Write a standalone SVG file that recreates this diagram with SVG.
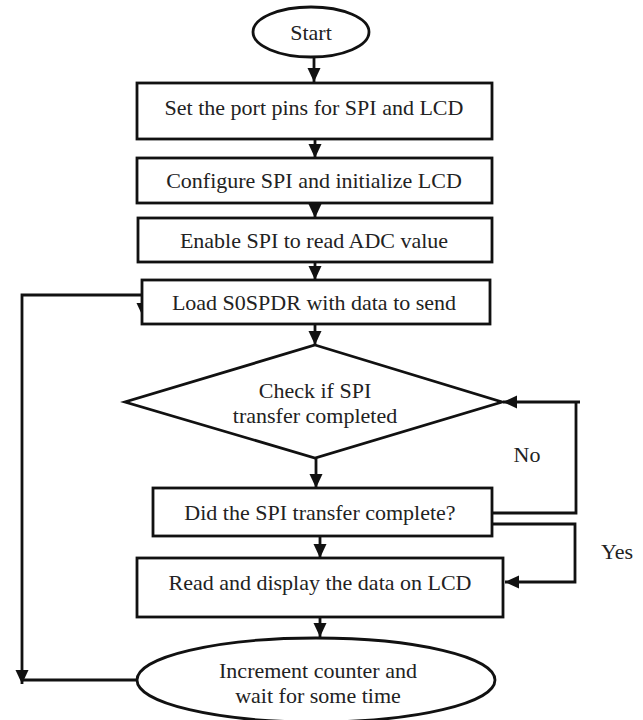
<svg xmlns="http://www.w3.org/2000/svg" width="643" height="720" viewBox="0 0 643 720">
<style>
.shape{fill:#fff;stroke:#111;stroke-width:2.8}
.conn{fill:none;stroke:#111;stroke-width:2.8}
text{font-size:22px;fill:#222;text-anchor:middle}
</style>
<defs>
<marker id="ah" markerUnits="userSpaceOnUse" markerWidth="16" markerHeight="14" refX="14" refY="6.5" orient="auto-start-reverse">
<path d="M0,0 L14,6.5 L0,13 z" fill="#111"/>
</marker>
</defs>
<rect width="643" height="720" fill="#fff"/>
<g id="connectors">
<path class="conn" d="M314,57 V82" marker-end="url(#ah)"/>
<path class="conn" d="M315,139 V158" marker-end="url(#ah)"/>
<path class="conn" d="M315,203 V218" marker-end="url(#ah)"/>
<path class="conn" d="M315,262 V280" marker-end="url(#ah)"/>
<path class="conn" d="M315,324 V345" marker-end="url(#ah)"/>
<path class="conn" d="M316,458 V488" marker-end="url(#ah)"/>
<path class="conn" d="M320,536 V558" marker-end="url(#ah)"/>
<path class="conn" d="M320,617 V637" marker-end="url(#ah)"/>
<path class="conn" d="M492,513 H576 V402 H580 M576,402 H503" marker-end="url(#ah)"/>
<path class="conn" d="M492,524 H575 V582 H505" marker-end="url(#ah)"/>
<path class="conn" d="M137,680 H22"/>
<path class="conn" d="M22,684 V295 H143 V317" marker-start="url(#ah)" marker-end="url(#ah)"/>
</g>
<g font-family="'Liberation Serif', 'Times New Roman', 'DejaVu Serif', serif">
<g id="start">
<ellipse class="shape" cx="311" cy="32" rx="58" ry="25"/>
<text x="311" y="40">Start</text>
</g>
<g id="set-pins">
<rect class="shape" x="137" y="83" width="355" height="56"/>
<text x="314" y="115">Set the port pins for SPI and LCD</text>
</g>
<g id="configure">
<rect class="shape" x="137" y="158" width="355" height="45"/>
<text x="314" y="188">Configure SPI and initialize LCD</text>
</g>
<g id="enable">
<rect class="shape" x="138" y="218" width="354" height="44"/>
<text x="314" y="248">Enable SPI to read ADC value</text>
</g>
<g id="load">
<rect class="shape" x="142" y="280" width="348" height="44"/>
<text x="314" y="310">Load S0SPDR with data to send</text>
</g>
<g id="check">
<polygon class="shape" points="315,345 502,402 315,458 125,402"/>
<text x="315" y="398">Check if SPI</text>
<text x="315" y="423">transfer completed</text>
</g>
<g id="did-complete">
<rect class="shape" x="153" y="488" width="339" height="48"/>
<text x="320" y="520">Did the SPI transfer complete?</text>
</g>
<g id="read-display">
<rect class="shape" x="137" y="558" width="366" height="59"/>
<text x="320" y="590">Read and display the data on LCD</text>
</g>
<g id="increment">
<ellipse class="shape" cx="316" cy="680" rx="179" ry="42"/>
<text x="318" y="678">Increment counter and</text>
<text x="318" y="703">wait for some time</text>
</g>
<g id="labels">
<text x="527" y="462">No</text>
<text x="617" y="559">Yes</text>
</g>
</g>
</svg>
